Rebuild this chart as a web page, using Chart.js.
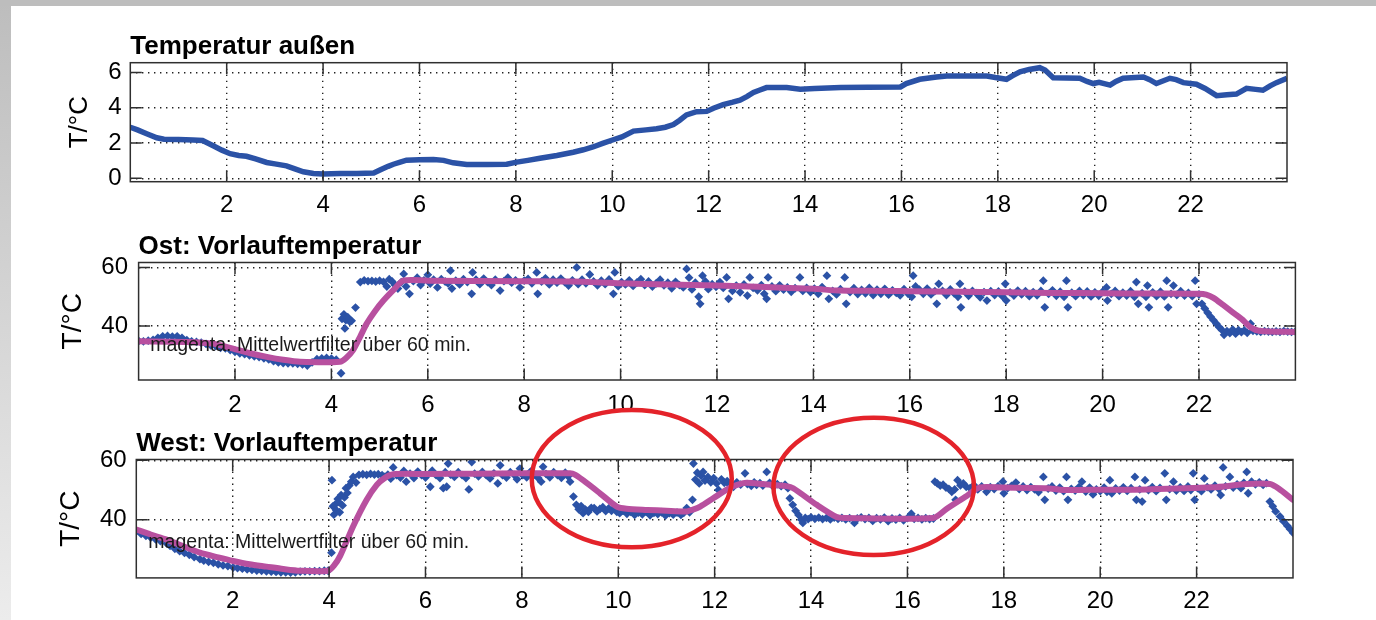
<!DOCTYPE html>
<html><head><meta charset="utf-8">
<script src="https://cdn.jsdelivr.net/npm/chart.js@4.4.1/dist/chart.umd.min.js"></script>
<style>
html,body{margin:0;padding:0;background:#fff;width:1376px;height:620px;overflow:hidden;}
#stage{position:relative;width:1376px;height:620px;background:#fff;}
#stage canvas{position:absolute;left:0;top:0;}
.edgeL{position:absolute;left:0;top:0;width:11px;height:620px;background:linear-gradient(#bdbdbd,#ececec);}
.edgeT{position:absolute;left:0;top:0;width:1376px;height:6px;background:#bdbdbd;}
</style></head>
<body><div id="stage"><div class="edgeL"></div><div class="edgeT"></div>
<canvas id="c1" width="1376" height="620"></canvas>
<canvas id="c2" width="1376" height="620"></canvas>
<canvas id="c3" width="1376" height="620"></canvas>
</div>
<script>
// ---------- DATA ----------
const titles = ['Temperatur außen', 'Ost: Vorlauftemperatur', 'West: Vorlauftemperatur'];
const yLabel = 'T/°C';
const noteText = 'magenta: Mittelwertfilter über 60 min.';
const xTicks = [2,4,6,8,10,12,14,16,18,20,22];
const yTicksOut = [0,2,4,6];
const yTicksFlow = [40,60];

// Temperatur außen (hours, °C)
const tOut = [0.00,0.15,0.34,0.55,0.70,1.00,1.30,1.50,1.72,1.90,2.07,2.25,2.41,2.60,2.83,3.00,3.24,3.40,3.59,3.80,4.00,4.35,4.70,5.05,5.18,5.35,5.46,5.60,5.73,6.00,6.29,6.50,6.70,6.98,7.40,7.81,8.02,8.25,8.50,8.85,9.19,9.40,9.60,9.80,10.02,10.20,10.44,10.70,10.92,11.10,11.27,11.40,11.54,11.75,11.96,12.10,12.30,12.50,12.65,12.80,12.93,13.05,13.20,13.62,13.90,14.20,14.74,15.30,15.98,16.10,16.38,16.73,16.94,17.77,17.95,18.18,18.30,18.46,18.65,18.87,18.98,19.15,19.70,19.85,19.98,20.10,20.33,20.45,20.60,21.02,21.15,21.29,21.45,21.57,21.70,21.85,22.12,22.30,22.54,22.75,22.95,23.16,23.35,23.50,23.65,23.78,24.00];
const vOut = [2.90,2.75,2.53,2.30,2.22,2.20,2.18,2.15,1.85,1.60,1.40,1.30,1.25,1.10,0.90,0.82,0.71,0.55,0.37,0.28,0.24,0.28,0.28,0.30,0.47,0.68,0.80,0.92,1.03,1.06,1.07,1.02,0.88,0.79,0.79,0.80,0.92,1.02,1.14,1.30,1.48,1.62,1.78,1.98,2.19,2.35,2.68,2.75,2.81,2.90,3.05,3.30,3.60,3.78,3.80,3.98,4.18,4.32,4.44,4.65,4.87,5.00,5.15,5.15,5.06,5.10,5.15,5.17,5.19,5.38,5.62,5.75,5.81,5.81,5.72,5.62,5.82,6.05,6.18,6.28,6.15,5.71,5.68,5.50,5.38,5.45,5.29,5.50,5.68,5.75,5.60,5.38,5.55,5.68,5.60,5.43,5.34,5.10,4.69,4.75,4.78,5.11,5.05,5.00,5.25,5.43,5.68];

// Ost: measured flow temperature
const tOst = [0.00,0.10,0.20,0.30,0.40,0.50,0.60,0.70,0.80,0.90,
1.00,1.10,1.20,1.30,1.40,1.50,1.60,1.70,1.80,1.90,
2.00,2.10,2.20,2.30,2.40,2.50,2.60,2.70,2.80,2.90,
3.00,3.10,3.20,3.30,3.40,3.50,3.60,3.70,3.80,3.90,
4.00,4.10,4.20,4.22,4.26,4.28,4.30,4.34,4.38,4.42,
4.50,4.60,4.68,4.76,4.84,4.92,5.00,5.08,5.15,5.20,
5.26,5.32,5.38,5.45,5.50,5.55,5.62,5.70,5.78,5.85,
5.92,6.00,6.05,6.12,6.20,6.28,6.36,6.42,6.47,6.50,
6.58,6.66,6.74,6.82,6.91,6.93,7.00,7.08,7.16,7.24,
7.32,7.40,7.50,7.58,7.66,7.74,7.82,7.91,8.00,8.08,
8.16,8.26,8.28,8.36,8.44,8.52,8.60,8.68,8.76,8.84,
8.92,9.00,9.09,9.12,9.20,9.28,9.36,9.44,9.52,9.60,
9.68,9.76,9.85,9.88,9.95,10.02,10.10,10.18,10.26,10.34,
10.42,10.50,10.58,10.66,10.74,10.82,10.90,10.98,11.06,11.14,
11.22,11.30,11.37,11.42,11.48,11.55,11.62,11.65,11.70,11.76,
11.82,11.90,11.98,12.06,12.13,12.20,12.24,12.32,12.40,12.48,
12.56,12.63,12.68,12.75,12.84,12.92,12.98,13.03,13.06,13.14,
13.22,13.30,13.38,13.46,13.54,13.62,13.72,13.78,13.86,13.94,
14.02,14.10,14.18,14.28,14.32,14.40,14.48,14.56,14.65,14.68,
14.76,14.84,14.92,15.00,15.08,15.16,15.24,15.32,15.40,15.48,
15.56,15.64,15.72,15.80,15.88,15.96,16.04,16.07,16.12,16.20,
16.28,16.36,16.44,16.52,16.56,16.60,16.68,16.76,16.84,16.92,
17.00,17.04,17.06,17.14,17.22,17.30,17.38,17.46,17.54,17.60,
17.68,17.76,17.84,17.92,17.98,18.00,18.08,18.16,18.24,18.32,
18.40,18.48,18.56,18.64,18.72,18.77,18.80,18.88,18.96,19.04,
19.12,19.20,19.25,19.28,19.36,19.44,19.52,19.60,19.68,19.76,
19.84,19.92,20.00,20.08,20.10,20.18,20.26,20.34,20.42,20.50,
20.58,20.66,20.70,20.74,20.82,20.90,20.93,20.96,21.04,21.12,
21.20,21.28,21.33,21.36,21.42,21.47,21.54,21.62,21.70,21.78,
21.86,21.92,21.95,22.00,22.06,22.12,22.18,22.24,22.30,22.36,
22.42,22.48,22.52,22.58,22.64,22.70,22.76,22.82,22.88,22.94,
23.00,23.07,23.12,23.20,23.28,23.36,23.44,23.52,23.60,23.68,
23.76,23.84,23.92,24.00];
const vOst = [34.9,34.8,35.0,35.3,36.0,36.5,36.6,36.4,36.5,36.0,
35.2,34.8,34.6,34.3,33.9,33.4,33.2,32.6,32.4,31.8,
31.2,30.7,30.4,30.0,29.7,29.4,29.0,28.6,28.0,27.6,
27.4,27.3,27.3,27.1,26.9,26.5,27.6,28.7,29.0,29.1,
28.9,28.5,23.9,42.5,44.0,39.2,42.0,43.0,41.5,41.8,
46.3,55.0,55.6,55.3,55.4,55.2,55.5,55.1,53.5,56.0,
55.2,54.0,52.8,55.0,57.8,53.5,51.0,55.3,56.5,54.0,
55.6,57.5,54.5,55.8,53.2,56.0,55.2,54.6,58.9,52.8,
55.5,54.2,56.0,55.0,51.0,58.3,55.8,54.3,56.2,55.0,
54.0,55.8,52.1,55.3,56.5,54.8,55.6,53.2,55.5,56.1,
54.6,58.3,51.0,55.2,56.3,54.2,55.8,54.8,56.2,55.0,
53.8,55.6,60.0,54.3,55.8,54.6,57.6,55.2,53.9,55.5,
54.3,55.9,51.0,58.3,53.6,55.0,54.2,55.6,53.7,54.9,
56.0,54.0,55.2,53.5,54.6,55.8,53.9,54.8,52.9,55.1,
54.0,53.2,59.5,56.5,52.5,54.8,50.0,47.6,57.2,55.2,
52.6,54.3,53.4,55.0,53.0,56.6,49.3,52.0,53.8,51.5,
54.2,50.4,56.6,53.0,52.2,54.0,51.0,49.3,56.6,53.5,
51.9,53.9,52.4,53.2,51.7,52.9,56.6,52.0,53.0,51.6,
52.8,51.0,53.3,57.2,49.3,52.0,50.8,52.6,56.6,47.6,
51.6,52.9,50.9,52.3,51.2,53.0,50.6,52.4,51.0,52.7,
50.7,52.2,51.3,50.5,52.6,51.1,50.0,57.2,53.5,52.4,
51.0,52.8,50.8,51.9,47.6,54.4,52.0,50.6,52.5,51.2,
50.0,54.4,46.4,51.8,50.3,52.0,51.2,49.8,51.6,48.7,
51.9,50.6,51.8,50.2,54.4,48.7,51.5,50.4,52.1,50.8,
51.9,50.2,51.6,50.5,52.0,55.5,46.4,51.0,52.2,50.3,
51.7,50.0,55.5,46.4,51.4,50.2,52.0,50.6,51.8,50.1,
51.5,50.3,51.7,53.2,48.7,51.0,52.0,50.2,51.4,50.4,
51.9,50.0,55.0,47.6,51.2,50.0,53.8,46.4,51.5,50.2,
51.7,50.1,55.5,46.4,51.0,53.8,50.6,51.9,50.4,51.3,
50.2,55.5,47.6,50.8,47.6,46.0,44.5,43.2,42.0,40.8,
39.6,38.6,37.0,38.3,37.6,38.8,37.4,38.6,37.9,38.5,
37.7,40.8,38.4,38.2,38.0,38.3,38.1,38.0,38.2,38.0,
38.3,38.1,38.0,38.1];
// Ost: 60-min mean filter
const tOstAvg = [0,1.0,1.55,1.96,2.3,2.66,3.0,3.35,4.18,4.3,4.45,4.6,4.73,4.9,5.08,5.3,5.49,6.0,8.0,9.0,10.0,11.0,12.0,13.0,14.0,14.55,15.5,16.0,17.0,18.0,19.0,20.0,21.0,22.0,22.15,22.3,22.5,22.7,22.9,23.06,23.27,24];
const vOstAvg = [34.8,34.6,34.0,32.3,30.8,29.5,28.5,27.8,27.8,29.0,31.8,36.5,40.8,45.0,48.7,52.5,55.5,55.5,55.3,55.2,54.6,54.2,53.8,53.3,52.7,52.1,52.0,51.9,51.7,51.5,51.3,51.2,51.1,51.0,50.7,49.6,47.2,44.7,42.2,39.7,38.3,38.0];

// West: measured flow temperature
const tWest = [0.00,0.10,0.20,0.30,0.40,0.50,0.63,0.70,0.80,0.90,
1.00,1.10,1.20,1.32,1.40,1.50,1.60,1.70,1.80,1.90,
2.01,2.10,2.20,2.30,2.40,2.50,2.60,2.70,2.80,2.90,
3.00,3.10,3.20,3.30,3.40,3.50,3.60,3.70,3.80,3.90,
3.98,4.05,4.06,4.08,4.10,4.12,4.15,4.18,4.20,4.22,
4.25,4.28,4.32,4.35,4.38,4.42,4.46,4.50,4.56,4.62,
4.70,4.78,4.86,4.94,5.02,5.10,5.15,5.22,5.28,5.33,
5.40,5.48,5.55,5.60,5.68,5.76,5.84,5.92,6.00,6.10,
6.14,6.22,6.30,6.37,6.41,6.44,6.47,6.52,6.60,6.68,
6.76,6.84,6.90,6.96,7.02,7.10,7.18,7.26,7.34,7.42,
7.50,7.55,7.60,7.68,7.76,7.84,7.90,7.96,8.02,8.10,
8.18,8.26,8.34,8.40,8.44,8.50,8.58,8.66,8.74,8.82,
8.90,8.96,9.00,9.07,9.13,9.18,9.23,9.27,9.32,9.38,
9.44,9.50,9.56,9.62,9.68,9.74,9.80,9.86,9.92,9.97,
10.03,10.10,10.18,10.26,10.34,10.42,10.50,10.58,10.66,10.74,
10.82,10.90,10.98,11.06,11.14,11.22,11.30,11.36,11.42,11.48,
11.54,11.56,11.60,11.64,11.68,11.72,11.76,11.80,11.86,11.92,
11.98,12.04,12.08,12.14,12.20,12.26,12.32,12.39,12.46,12.54,
12.63,12.68,12.76,12.82,12.87,12.94,13.00,13.08,13.14,13.22,
13.30,13.38,13.46,13.52,13.56,13.62,13.68,13.74,13.80,13.83,
13.88,13.94,14.00,14.08,14.16,14.24,14.32,14.40,14.48,14.56,
14.64,14.72,14.80,14.90,14.96,15.04,15.12,15.20,15.28,15.36,
15.44,15.52,15.60,15.68,15.76,15.84,15.92,16.00,16.08,16.14,
16.22,16.30,16.38,16.46,16.54,16.57,16.62,16.68,16.74,16.80,
16.86,16.92,16.98,17.00,17.04,17.10,17.16,17.22,17.30,17.38,
17.46,17.54,17.64,17.72,17.80,17.88,17.98,18.00,18.08,18.16,
18.25,18.32,18.40,18.48,18.56,18.64,18.72,18.82,18.85,18.92,
19.00,19.08,19.16,19.24,19.30,19.33,19.40,19.48,19.56,19.62,
19.70,19.78,19.85,19.92,20.00,20.08,20.14,20.20,20.24,20.32,
20.40,20.48,20.56,20.64,20.72,20.75,20.82,20.87,20.93,21.00,
21.08,21.16,21.24,21.34,21.37,21.44,21.52,21.58,21.66,21.74,
21.82,21.88,21.93,21.96,22.02,22.10,22.16,22.22,22.30,22.38,
22.46,22.50,22.55,22.60,22.69,22.76,22.84,22.92,22.98,23.04,
23.07,23.14,23.22,23.30,23.38,23.45,23.52,23.58,23.64,23.73,
23.80,23.88,23.94,24.00];
const vWest = [36.1,35.2,34.6,34.0,33.4,32.8,32.0,31.2,30.2,29.4,
28.8,28.2,27.4,26.7,26.2,25.8,25.5,25.0,24.6,24.4,
23.9,23.7,23.5,23.3,23.1,22.9,22.8,22.6,22.5,22.4,
22.3,22.3,22.2,22.3,22.5,22.6,22.6,22.7,22.7,22.8,
22.8,28.9,53.3,44.5,41.7,45.0,43.2,47.0,46.0,42.5,
48.3,44.8,47.5,50.6,49.0,51.5,52.8,54.4,52.5,55.1,
55.3,55.1,55.4,55.2,55.3,55.0,54.4,55.2,53.8,57.6,
55.0,54.2,56.4,52.8,55.5,54.0,56.2,55.0,54.2,51.1,
56.5,55.0,54.0,50.6,56.0,51.1,58.9,55.2,54.4,56.0,
55.0,54.0,50.2,59.4,55.5,54.6,56.1,55.0,53.9,55.6,
52.2,58.3,55.0,54.2,56.0,55.1,53.6,57.2,55.0,54.3,
56.2,55.2,54.0,52.8,57.8,55.4,54.3,56.0,55.0,54.1,
55.8,54.6,52.8,47.8,45.0,43.5,44.6,42.2,43.4,42.6,
44.0,43.9,42.8,43.6,44.2,42.9,43.8,43.0,44.0,42.6,
42.2,43.0,42.0,42.6,41.6,42.4,41.8,42.6,41.5,42.3,
41.9,42.5,41.4,42.2,41.7,42.4,41.6,42.3,43.9,42.5,
46.7,58.9,53.5,55.8,52.2,54.8,56.1,53.2,54.4,52.6,
54.0,52.2,50.0,53.6,52.4,53.0,51.6,51.1,52.6,51.8,
55.6,52.0,51.4,52.6,51.7,52.3,51.5,56.1,52.4,51.1,
52.0,51.3,51.8,50.6,47.2,45.0,43.0,41.6,40.0,38.9,
40.6,40.2,40.8,40.3,40.7,40.2,40.6,40.1,40.7,40.3,
40.6,40.1,40.5,38.9,40.4,40.8,40.2,40.6,39.6,40.5,
40.1,40.7,39.5,40.4,40.0,40.6,39.8,40.5,42.0,40.3,
40.6,40.1,40.5,40.2,40.4,52.8,52.2,51.5,51.8,50.8,
50.4,49.4,50.2,46.7,53.3,51.6,52.2,51.1,50.6,51.6,
50.2,51.2,49.4,51.0,50.3,51.3,52.8,48.9,50.6,51.4,
52.5,50.3,51.2,50.0,51.0,50.2,49.3,54.4,46.7,50.5,
51.2,49.8,50.8,49.6,54.4,46.7,50.4,49.8,51.0,52.8,
49.5,50.8,48.5,50.2,49.6,50.8,49.4,53.3,48.9,50.5,
49.8,50.9,49.7,50.6,54.4,46.7,50.2,46.1,53.3,50.0,
51.0,49.6,50.7,55.6,46.7,50.3,52.8,49.8,50.9,49.7,
51.2,50.0,55.6,46.7,50.6,49.6,53.9,51.0,50.2,51.5,
50.4,48.3,57.6,51.2,54.4,50.8,51.9,50.6,52.4,56.1,
48.9,52.8,51.9,52.6,51.7,52.3,46.1,44.5,42.8,41.1,
39.5,38.0,36.8,35.6];
// West: 60-min mean filter
const tWestAvg = [0,0.3,0.63,1.0,1.32,1.7,2.01,2.35,2.7,3.05,3.4,3.98,4.1,4.23,4.5,4.78,4.99,5.15,5.33,6.0,7.0,8.0,9.0,9.1,9.27,9.62,9.97,10.17,10.6,11.0,11.42,11.55,11.7,11.97,12.32,12.5,12.66,13.0,13.49,13.63,14.12,14.53,14.7,16.54,16.81,17.23,17.5,18.0,18.89,19.23,20.0,20.96,22.34,23.04,23.52,23.7,24.0];
const vWestAvg = [36.7,35.0,33.3,30.9,28.9,27.3,26.1,25.0,24.2,23.4,22.8,22.8,24.5,27.8,37.8,46.7,51.7,54.0,55.3,55.4,55.5,55.6,55.6,55.2,53.3,48.9,44.4,43.7,43.3,43.0,42.8,43.4,44.4,47.2,50.8,51.9,52.4,52.0,51.3,50.6,45.0,40.9,40.6,40.6,43.6,48.0,50.9,50.8,50.6,50.0,50.1,50.2,50.9,52.0,52.0,50.5,46.7];

// ---------- STYLE ----------
const FONT = "'Liberation Sans', Arial, Helvetica, sans-serif";
const BLUE = '#2b52a6';
const MAGENTA = '#b8509f';
const RED = '#e4232a';
Chart.defaults.font.family = FONT;
Chart.defaults.color = '#000';

const pts = (t, v) => t.map((x, i) => ({x, y: v[i]}));

const matlabBox = {
  id: 'matlabBox',
  afterDatasetsDraw(chart, args, o) {
    const {ctx, chartArea: a, scales: {x, y}} = chart;
    ctx.save();
    ctx.strokeStyle = '#2f2f2f';
    ctx.lineWidth = 1.5;
    ctx.setLineDash([]);
    const L = 11.5;
    ctx.beginPath();
    x.ticks.forEach(t => {
      const p = x.getPixelForValue(t.value);
      ctx.moveTo(p, a.bottom); ctx.lineTo(p, a.bottom - L);
      ctx.moveTo(p, a.top); ctx.lineTo(p, a.top + L);
    });
    y.ticks.forEach(t => {
      const p = y.getPixelForValue(t.value);
      ctx.moveTo(a.left, p); ctx.lineTo(a.left + L, p);
      ctx.moveTo(a.right, p); ctx.lineTo(a.right - L, p);
    });
    ctx.stroke();
    ctx.strokeRect(a.left, a.top, a.right - a.left, a.bottom - a.top);
    if (o.note) {
      ctx.font = '19.5px ' + FONT;
      ctx.fillStyle = '#1a1a1a';
      ctx.textBaseline = 'alphabetic';
      ctx.textAlign = 'left';
      ctx.fillText(o.note.text, x.getPixelForValue(o.note.x), y.getPixelForValue(o.note.y));
    }
    ctx.restore();
  },
  afterDraw(chart, args, o) {
    if (!o.ellipses) return;
    const {ctx, scales: {x, y}} = chart;
    ctx.save();
    ctx.strokeStyle = RED;
    ctx.lineWidth = 4.5;
    o.ellipses.forEach(e => {
      const cx = x.getPixelForValue(e.x), cy = y.getPixelForValue(e.y);
      const rx = x.getPixelForValue(e.x + e.rx) - cx;
      const ry = cy - y.getPixelForValue(e.y + e.ry);
      ctx.beginPath();
      ctx.ellipse(cx, cy, rx, ry, 0, 0, Math.PI * 2);
      ctx.stroke();
    });
    ctx.restore();
  }
};

function makePanel(id, p) {
  return new Chart(document.getElementById(id), {
    type: 'scatter',
    data: {datasets: p.datasets},
    plugins: [matlabBox],
    options: {
      responsive: false, animation: false, devicePixelRatio: 1,
      layout: {padding: p.pad},
      plugins: {
        legend: {display: false}, tooltip: {enabled: false},
        title: {display: true, text: p.title, align: 'start', fullSize: false, color: '#000',
                font: {size: 26, weight: 'bold', lineHeight: 1.2}, padding: {top: 0, bottom: 0}},
        matlabBox: p.box
      },
      scales: {
        x: {
          type: 'linear', min: 0, max: 24,
          afterBuildTicks: s => { s.ticks = xTicks.map(v => ({value: v})); },
          afterFit: s => { s.height = 40; },
          ticks: {font: {size: 24, lineHeight: 1.2}, color: '#000', padding: p.xPad, maxRotation: 0, autoSkip: false},
          grid: {color: '#222', lineWidth: 1.4, drawTicks: false},
          border: {display: false, dash: [1.4, 4.6]}
        },
        y: {
          type: 'linear', min: p.yMin, max: p.yMax,
          afterBuildTicks: s => { s.ticks = p.yTicks.map(v => ({value: v})); },
          afterFit: s => { s.width = 80; },
          ticks: {font: {size: p.yFont}, color: '#000', padding: p.yPad, autoSkip: false},
          grid: {color: '#222', lineWidth: 1.4, drawTicks: false},
          border: {display: false, dash: [1.4, 4.6]},
          title: {display: true, text: yLabel, color: '#000', font: {size: p.yTitleSize, lineHeight: 1}, padding: {top: p.yTitlePad, bottom: 0}}
        }
      }
    }
  });
}

const blueDots = (t, v) => ({data: pts(t, v), showLine: false,
  pointStyle: 'rectRot', pointRadius: 4.4, pointBackgroundColor: BLUE, pointBorderWidth: 0,
  pointBorderColor: BLUE, backgroundColor: BLUE, borderColor: BLUE});
const magentaLine = (t, v) => ({data: pts(t, v), showLine: true, borderColor: MAGENTA, borderWidth: 6,
  pointRadius: 0, tension: 0.25, borderCapStyle: 'round', borderJoinStyle: 'round'});

makePanel('c1', {
  title: titles[0],
  datasets: [{data: pts(tOut, vOut), showLine: true, borderColor: BLUE, borderWidth: 5.5, pointRadius: 0, tension: 0}],
  pad: {left: 50.3, right: 89, top: 31.5, bottom: 398.3},
  yMin: -0.191, yMax: 6.563, yTicks: yTicksOut, yFont: 24, yPad: 8.6, yTitleSize: 26, yTitlePad: 16.5, xPad: 9,
  box: {}
});
makePanel('c2', {
  title: titles[1],
  datasets: [magentaLine(tOstAvg, vOstAvg), blueDots(tOst, vOst)],
  pad: {left: 58.6, right: 80.6, top: 231.3, bottom: 200},
  yMin: 21.59, yMax: 61.69, yTicks: yTicksFlow, yFont: 24, yPad: 10.6, yTitleSize: 28, yTitlePad: 0.4, xPad: 10.6,
  box: {note: {text: noteText, x: 0.24, y: 31.5}}
});
makePanel('c3', {
  title: titles[2],
  datasets: [magentaLine(tWestAvg, vWestAvg), blueDots(tWest, vWest)],
  pad: {left: 56.3, right: 83, top: 428.3, bottom: 2.1},
  yMin: 20.4, yMax: 60.27, yTicks: yTicksFlow, yFont: 24, yPad: 9.6, yTitleSize: 28, yTitlePad: 0.7, xPad: 9,
  box: {note: {text: noteText, x: 0.25, y: 30.6},
        ellipses: [{x: 10.28, y: 53.8, rx: 2.075, ry: 23.1}, {x: 15.30, y: 51.2, rx: 2.08, ry: 23.1}]}
});
</script>
</body></html>
